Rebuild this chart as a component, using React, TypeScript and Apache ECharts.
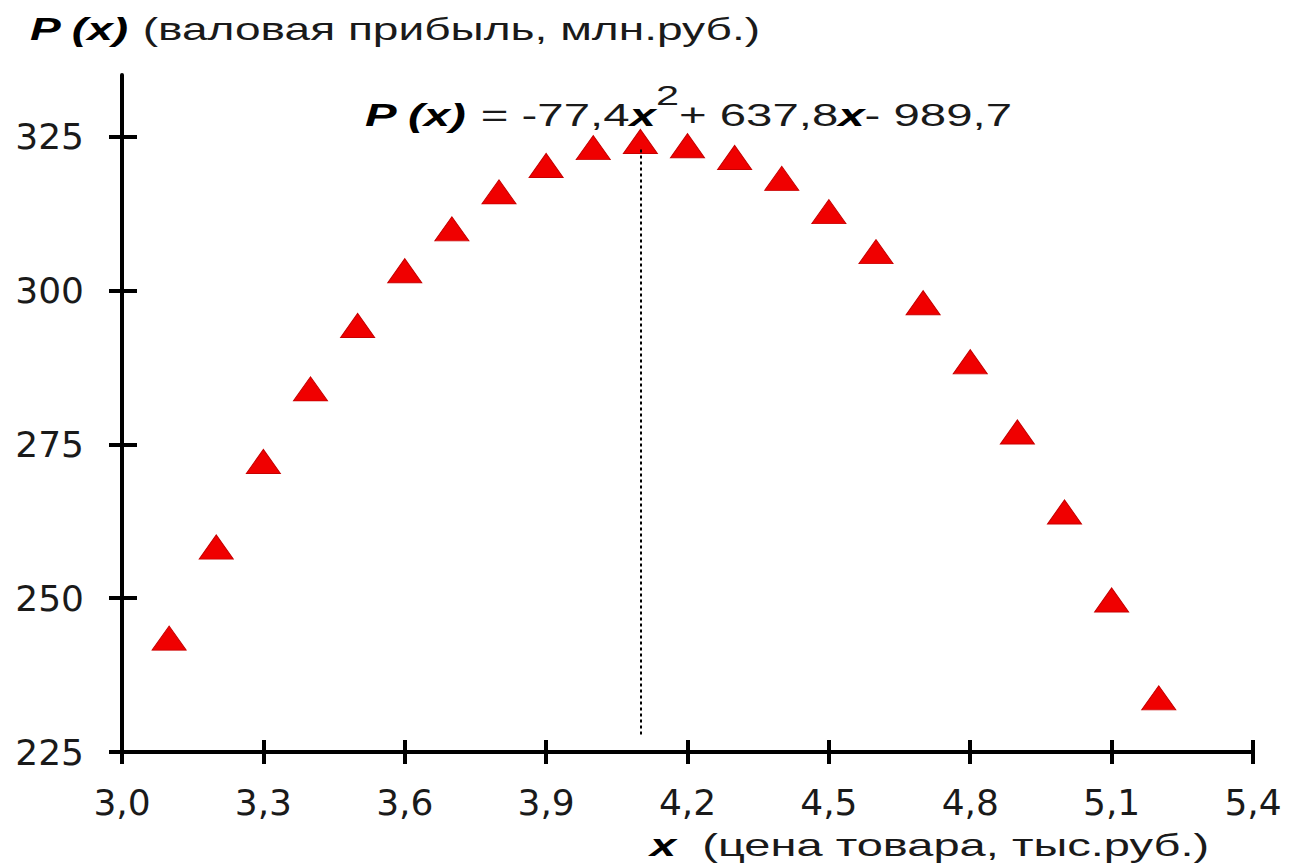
import React, { useEffect, useRef } from "react";
import * as echarts from "echarts";

const xValues = [3.1, 3.2, 3.3, 3.4, 3.5, 3.6, 3.7, 3.8, 3.9, 4.0, 4.1, 4.2, 4.3, 4.4, 4.5, 4.6, 4.7, 4.8, 4.9, 5.0, 5.1, 5.2];
const profit = [243.5, 258.3, 272.2, 284.0, 294.3, 303.2, 310.0, 316.0, 320.3, 323.2, 324.2, 323.5, 321.6, 318.2, 312.8, 306.3, 298.0, 288.4, 277.0, 264.0, 249.7, 233.8];
const xTicks = [3.0, 3.3, 3.6, 3.9, 4.2, 4.5, 4.8, 5.1, 5.4];
const yTicks = [225, 250, 275, 300, 325];
const optimumX = 4.1;
const dropLine = [322.9, 227.8];

const FONT = "'Liberation Sans', Arial, sans-serif";
const AXFONT = "'DejaVu Sans', sans-serif";
const TXT = "#1a1a1a";

export default function App() {
  const ref = useRef<HTMLDivElement>(null);
  useEffect(() => {
    if (!ref.current) return;
    const chart = echarts.init(ref.current, null, { renderer: "svg" });
    const fmtX = (v: number) => v.toFixed(1).replace(".", ",");
    const grid = { left: 122, right: 42, top: 75, bottom: 112 };
    const baseX = {
      type: "value",
      min: 3.0,
      max: 5.4,
      interval: 0.3,
      splitLine: { show: false },
    };
    const baseY = {
      type: "value",
      min: 225,
      max: 335,
      splitLine: { show: false },
    };
    const bi = { fontSize: 32, fontFamily: FONT, fontWeight: "bold", fontStyle: "italic", fill: "#000" };
    chart.setOption({
      animation: false,
      backgroundColor: "#ffffff",
      grid,
      xAxis: [
        {
          ...baseX,
          position: "bottom",
          axisLine: { show: true, onZero: false, lineStyle: { color: "#000", width: 4 } },
          axisTick: { show: true, inside: false, length: 12, customValues: xTicks, lineStyle: { color: "#000", width: 4 } },
          axisLabel: {
            show: true,
            customValues: xTicks,
            formatter: fmtX,
            fontSize: 36,
            fontFamily: AXFONT,
            color: TXT,
            margin: 32,
          },
        },
        {
          ...baseX,
          position: "bottom",
          axisLine: { show: false },
          axisTick: { show: true, inside: true, length: 12, customValues: xTicks, lineStyle: { color: "#000", width: 4 } },
          axisLabel: { show: false },
        },
      ],
      yAxis: [
        {
          ...baseY,
          position: "left",
          axisLine: { show: true, onZero: false, lineStyle: { color: "#000", width: 4 } },
          axisTick: { show: true, inside: false, length: 13, customValues: yTicks, lineStyle: { color: "#000", width: 4 } },
          axisLabel: {
            show: true,
            customValues: yTicks,
            fontSize: 36,
            fontFamily: AXFONT,
            color: TXT,
            margin: 38,
          },
        },
        {
          ...baseY,
          position: "left",
          axisLine: { show: false },
          axisTick: { show: true, inside: true, length: 15, customValues: yTicks, lineStyle: { color: "#000", width: 4 } },
          axisLabel: { show: false },
        },
      ],
      series: [
        {
          type: "scatter",
          xAxisIndex: 0,
          yAxisIndex: 0,
          symbol: "triangle",
          symbolSize: [34, 24],
          itemStyle: { color: "#f00000", opacity: 1, borderColor: "#c80000", borderWidth: 1 },
          data: xValues.map((x, i) => [x, profit[i]]),
          z: 3,
          markLine: {
            silent: true,
            symbol: "none",
            label: { show: false },
            lineStyle: { color: "#000", width: 2, type: [3, 3] },
            data: [
              [
                { coord: [optimumX, dropLine[0]] },
                { coord: [optimumX, dropLine[1]] },
              ],
            ],
          },
        },
      ],
      graphic: [
        {
          type: "text",
          x: 30,
          y: 29,
          scaleX: 1.44,
          style: {
            text: "{b|P (x)} (валовая прибыль, млн.руб.)",
            fontSize: 32,
            fontFamily: FONT,
            fill: TXT,
            verticalAlign: "middle",
            rich: { b: bi },
          },
        },
        {
          type: "text",
          x: 365,
          y: 81,
          scaleX: 1.48,
          style: {
            text: "{b|P (x)}{n| = -77,4}{b|x}{s|2}{n|+ 637,8}{b|x}{n|- 989,7}",
            fontSize: 32,
            fontFamily: FONT,
            fill: TXT,
            verticalAlign: "top",
            rich: {
              b: { ...bi, lineHeight: 50, verticalAlign: "bottom" },
              n: { fontSize: 32, fontFamily: FONT, fill: TXT, lineHeight: 50, verticalAlign: "bottom" },
              s: { fontSize: 28, fontFamily: FONT, fill: TXT, lineHeight: 28, verticalAlign: "top" },
            },
          },
        },
        {
          type: "text",
          x: 650,
          y: 845,
          scaleX: 1.47,
          style: {
            text: "{b|x}  (цена товара, тыс.руб.)",
            fontSize: 32,
            fontFamily: FONT,
            fill: TXT,
            verticalAlign: "middle",
            rich: { b: bi },
          },
        },
      ],
    });
    return () => chart.dispose();
  }, []);
  return (
    <div
      ref={ref}
      style={{ position: "fixed", left: 0, top: 0, width: 1295, height: 864, background: "#fff" }}
    />
  );
}
